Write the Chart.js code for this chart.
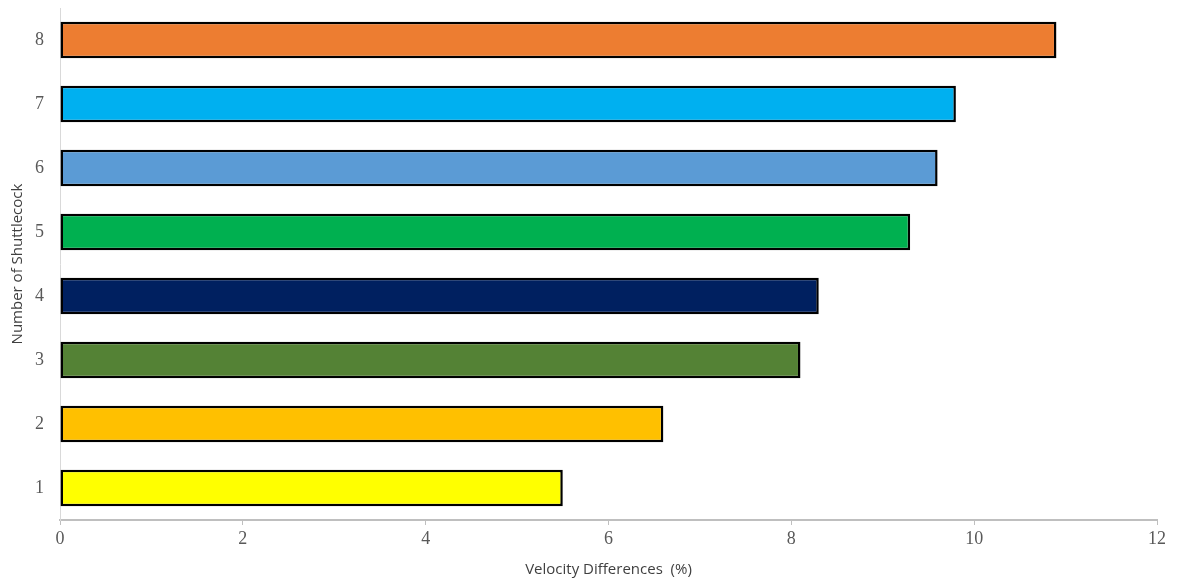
<!DOCTYPE html>
<html>
<head>
<meta charset="utf-8">
<script src="https://cdn.jsdelivr.net/npm/chart.js@4"></script>
<style>
    html, body { margin: 0; padding: 0; background: #fff; }
    #wrap { width: 1178px; height: 584px; }
</style>
</head>
<body>
<div id="wrap"><canvas id="shuttleChart" width="1178" height="584"></canvas></div>
<script>
// Data
const shuttlecocks = ['1', '2', '3', '4', '5', '6', '7', '8'];
const velocityDiff = [5.5, 6.6, 8.1, 8.3, 9.3, 9.6, 9.8, 10.9];
const barColors = ['#FFFF00', '#FFC000', '#548235', '#002060', '#00B050', '#5B9BD5', '#00B0F0', '#ED7D31'];
const xTicks = [0, 2, 4, 6, 8, 10, 12];

const ctx = document.getElementById('shuttleChart').getContext('2d');

const serifTick = { family: '"Liberation Serif", "DejaVu Serif", serif', size: 18 };
const sansTitle = { family: '"Open Sans", "Liberation Sans", sans-serif', size: 15 };

new Chart(ctx, {
    type: 'bar',
    data: {
        labels: shuttlecocks,
        datasets: [{
            data: velocityDiff,
            backgroundColor: barColors,
            borderColor: '#000',
            borderWidth: 2.5,
            borderSkipped: false,
            barPercentage: 0.57,
            categoryPercentage: 1
        }]
    },
    options: {
        indexAxis: 'y',
        responsive: false,
        animation: false,
        layout: { padding: { top: 8, right: 21, left: 0, bottom: 0 } },
        plugins: {
            legend: { display: false },
            tooltip: { enabled: false }
        },
        scales: {
            x: {
                min: 0,
                max: 12,
                afterBuildTicks: function (axis) {
                    axis.ticks = xTicks.map(v => ({ value: v }));
                },
                afterFit: function (axis) { axis.height = 64; },
                grid: {
                    drawOnChartArea: false,
                    drawTicks: true,
                    tickLength: 5,
                    color: '#bfbfbf'
                },
                border: { display: true, color: '#bfbfbf', width: 2 },
                ticks: {
                    font: serifTick,
                    color: '#595959',
                    padding: 3,
                    maxRotation: 0
                },
                title: {
                    display: true,
                    text: 'Velocity Differences  (%)',
                    font: sansTitle,
                    color: '#404040',
                    padding: { top: 5, bottom: 5 }
                }
            },
            y: {
                reverse: true,
                afterFit: function (axis) {
                    axis.width = 60;
                    axis.paddingTop = 0;
                    axis.paddingBottom = 0;
                },
                grid: { display: false, drawTicks: false },
                border: { display: true, color: '#d9d9d9', width: 1 },
                ticks: {
                    font: serifTick,
                    color: '#595959',
                    padding: 16
                },
                title: {
                    display: true,
                    text: 'Number of Shuttlecock',
                    font: sansTitle,
                    color: '#404040',
                    padding: { top: 9, bottom: 9 }
                }
            }
        }
    }
});
</script>
</body>
</html>
